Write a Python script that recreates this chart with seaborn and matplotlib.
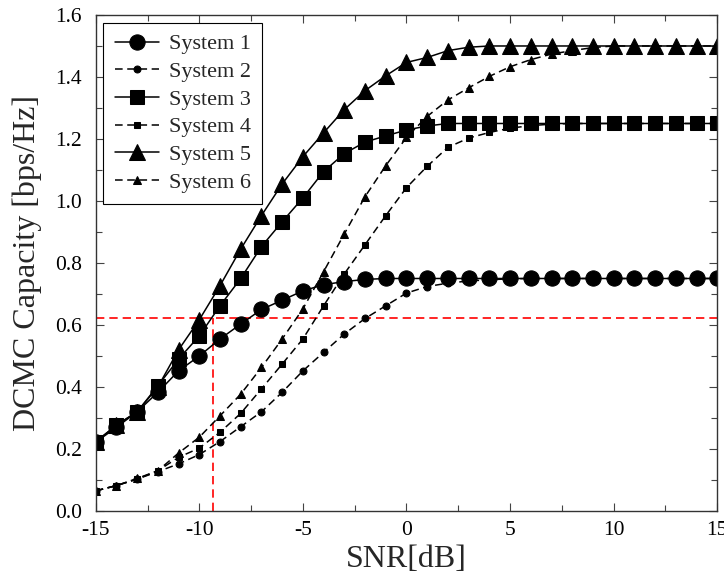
import numpy as np
import pandas as pd
import matplotlib
matplotlib.use("Agg")
import matplotlib.pyplot as plt
import seaborn as sns
from matplotlib.ticker import MultipleLocator

snr = list(range(-15, 16))

sys1 = [0.222, 0.27, 0.32, 0.383, 0.452, 0.50, 0.555, 0.603, 0.65, 0.68, 0.71, 0.73, 0.74, 0.747,
        0.75, 0.75, 0.75, 0.75, 0.75, 0.75, 0.75, 0.75, 0.75, 0.75, 0.75, 0.75, 0.75, 0.75, 0.75, 0.75, 0.75]
sys2 = [0.065, 0.082, 0.103, 0.127, 0.152, 0.182, 0.224, 0.272, 0.32, 0.383, 0.452, 0.512, 0.571, 0.621,
        0.662, 0.703, 0.724, 0.735, 0.742, 0.746, 0.749, 0.75, 0.75, 0.75, 0.75, 0.75, 0.75, 0.75, 0.75, 0.75, 0.75]
sys3 = [0.223, 0.277, 0.32, 0.404, 0.49, 0.565, 0.662, 0.75, 0.853, 0.933, 1.01, 1.095, 1.153, 1.19,
        1.21, 1.229, 1.242, 1.25, 1.25, 1.25, 1.25, 1.25, 1.25, 1.25, 1.25, 1.25, 1.25, 1.25, 1.25, 1.25, 1.25]
sys4 = [0.065, 0.082, 0.103, 0.13, 0.173, 0.203, 0.254, 0.315, 0.394, 0.474, 0.555, 0.662, 0.765, 0.859,
        0.953, 1.043, 1.112, 1.173, 1.203, 1.221, 1.235, 1.243, 1.248, 1.25, 1.25, 1.25, 1.25, 1.25, 1.25, 1.25, 1.25]
sys5 = [0.223, 0.277, 0.32, 0.40, 0.52, 0.617, 0.727, 0.845, 0.953, 1.055, 1.143, 1.22, 1.295, 1.356,
        1.404, 1.447, 1.463, 1.485, 1.496, 1.50, 1.50, 1.50, 1.50, 1.50, 1.50, 1.50, 1.50, 1.50, 1.50, 1.50, 1.50]
sys6 = [0.065, 0.082, 0.105, 0.13, 0.187, 0.238, 0.307, 0.377, 0.463, 0.555, 0.652, 0.772, 0.894, 1.014,
        1.114, 1.205, 1.273, 1.326, 1.365, 1.402, 1.433, 1.456, 1.474, 1.485, 1.495, 1.50, 1.50, 1.50, 1.50, 1.50, 1.50]

series_names = ["System 1", "System 2", "System 3", "System 4", "System 5", "System 6"]
series_values = [sys1, sys2, sys3, sys4, sys5, sys6]

threshold = 0.623
snr_cross = -9.35

x_ticks = [-15, -10, -5, 0, 5, 10, 15]
y_ticks = [0.0, 0.2, 0.4, 0.6, 0.8, 1.0, 1.2, 1.4, 1.6]

sns.set_style("ticks")
plt.rcParams['font.family'] = ['Liberation Serif', 'DejaVu Serif']
plt.rcParams['axes.unicode_minus'] = False

fig = plt.figure(figsize=(7.24, 5.83), dpi=100)
ax = fig.add_axes([0.1322, 0.1235, 0.8585, 0.8508])

dash = (0, (5, 3))
styles = [
    dict(marker='o', markersize=11, linestyle='-'),
    dict(marker='o', markersize=5, linestyle=dash),
    dict(marker='s', markersize=10, linestyle='-'),
    dict(marker='s', markersize=4.5, linestyle=dash),
    dict(marker='^', markersize=11, linestyle='-'),
    dict(marker='^', markersize=6, linestyle=dash),
]

for name, vals, st in zip(series_names, series_values, styles):
    df = pd.DataFrame({"SNR": snr, "Cap": vals})
    sns.lineplot(data=df, x="SNR", y="Cap", ax=ax, color='black', linewidth=1.1,
                 markeredgecolor='black', markerfacecolor='black', label=name,
                 dashes=False, **st)

ax.axhline(threshold, color='red', linestyle=dash, linewidth=1.2, zorder=1)
ax.vlines(snr_cross, 0, threshold, color='red', linestyle=dash, linewidth=1.2, zorder=1)

ax.set_xlim(-15, 15)
ax.set_ylim(0, 1.6)
ax.set_xticks(x_ticks)
ax.set_yticks(y_ticks)
ax.set_yticklabels([f"{v:.1f}" for v in y_ticks])
ax.xaxis.set_minor_locator(MultipleLocator(2.5))
ax.yaxis.set_minor_locator(MultipleLocator(0.1))
ax.tick_params(which='both', direction='in', top=True, right=True, labelsize=15.5,
               color='#444444', labelcolor='black')
ax.tick_params(which='major', length=6, width=0.8, pad=7)
ax.tick_params(axis='y', which='major', pad=10)
ax.tick_params(which='minor', length=4, width=0.8)
for s in ax.spines.values():
    s.set_linewidth(1.0)
    s.set_color('#333333')

ax.set_xlabel("SNR[dB]", fontsize=23, labelpad=4)
ax.set_ylabel("DCMC Capacity [bps/Hz]", fontsize=23, labelpad=9)

leg = ax.legend(loc='upper left', fontsize=16, frameon=True, fancybox=False,
                edgecolor='black', framealpha=1, borderaxespad=0.35, handlelength=2.0,
                handletextpad=0.45, labelspacing=0.32, borderpad=0.5)
leg.get_frame().set_linewidth(0.8)

fig.savefig("out.png", dpi=100)
